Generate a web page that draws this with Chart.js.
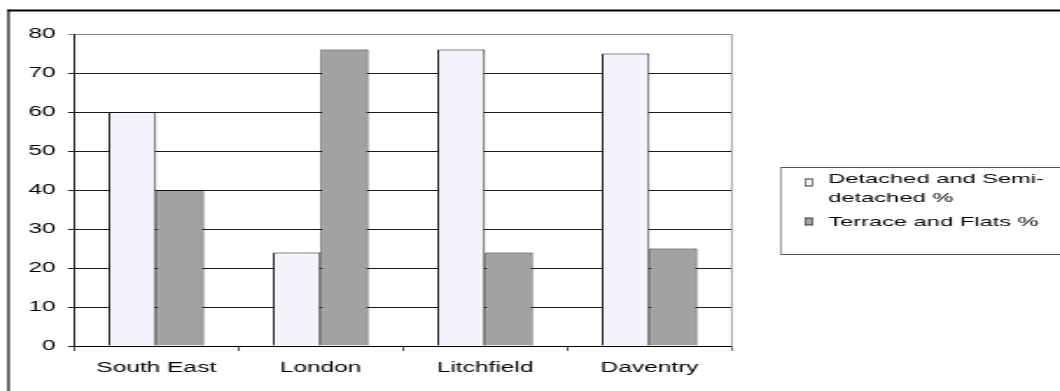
<!DOCTYPE html>
<html>
<head>
<meta charset="utf-8">
<script src="https://cdn.jsdelivr.net/npm/chart.js@4.4.1/dist/chart.umd.min.js"></script>
<style>
  html, body { margin: 0; padding: 0; background: #fff; overflow: hidden; }
  /* the chart is drawn narrow and widened horizontally, giving the wide lettering */
  #wrap { width: 606px; height: 391px; transform: scaleX(1.7492); transform-origin: 0 0; }
  canvas { display: block; }
</style>
</head>
<body>
<div id="wrap"><canvas id="c" width="606" height="391"></canvas></div>
<script>
// Housing type share by area
const regions = ["South East", "London", "Litchfield", "Daventry"];
const detachedPct = [60, 24, 76, 75];
const terracePct = [40, 76, 24, 25];
const seriesNames = ["Detached and Semi-detached %", "Terrace and Flats %"];
const legendLines = [["Detached and Semi-", "detached %"], ["Terrace and Flats %"]];
const yMin = 0, yMax = 80, yStep = 10;

const FONT = '"Liberation Sans", Arial, Helvetica, sans-serif';
const FSIZE = 14;
const LEGEND_FSIZE = 13.5;
Chart.defaults.font.family = FONT;
Chart.defaults.font.size = FSIZE;
Chart.defaults.color = '#000';

const lightFill = '#f3f3fb';
const greyFill = '#a2a2a2';
const fills = [lightFill, greyFill];

const frame = {
  id: 'frame',
  afterDraw(chart) {
    const { ctx, chartArea: a } = chart;
    ctx.save();
    // outer border (top and left edges)
    ctx.fillStyle = '#000';
    ctx.fillRect(4.3, 9.5, chart.width, 2);
    ctx.fillRect(4.3, 9.5, 1.15, chart.height);
    // right edge of the plot area
    ctx.fillStyle = '#8c8c8c';
    ctx.fillRect(a.right - 0.4, a.top, 0.8, a.bottom - a.top + 5);

    // legend box
    const lx = 446.3, ly = 167, lw = 200, lh = 87;
    ctx.fillStyle = '#555';
    ctx.fillRect(lx, ly, lw, 1);
    ctx.fillRect(lx, ly + lh, lw, 1);
    ctx.fillRect(lx, ly, 0.6, lh + 1);

    const rowsY = [[179, 198.5], [222.5]];
    const swatchY = [178.5, 217.5];
    ctx.font = LEGEND_FSIZE + 'px ' + FONT;
    ctx.textBaseline = 'middle';
    ctx.textAlign = 'left';
    chart.data.datasets.forEach((ds, i) => {
      const sx = 460, sw = 4.8, sh = 8, sy = swatchY[i];
      ctx.fillStyle = '#333';
      ctx.fillRect(sx, sy, sw, sh);
      ctx.fillStyle = fills[i];
      ctx.fillRect(sx + 0.6, sy + 1, sw - 1.2, sh - 2);
      ctx.fillStyle = '#000';
      legendLines[i].forEach((t, k) => ctx.fillText(t, 473.6, rowsY[i][k]));
    });
    ctx.restore();
  }
};

new Chart(document.getElementById('c'), {
  type: 'bar',
  data: {
    labels: regions,
    datasets: [
      { label: seriesNames[0], data: detachedPct, backgroundColor: lightFill,
        borderColor: '#111', borderWidth: 1, borderSkipped: 'bottom' },
      { label: seriesNames[1], data: terracePct, backgroundColor: greyFill,
        borderColor: '#111', borderWidth: 1, borderSkipped: 'bottom' }
    ]
  },
  options: {
    responsive: false,
    animation: false,
    devicePixelRatio: 1,
    categoryPercentage: 0.58,
    barPercentage: 1.0,
    layout: { padding: { top: 34, right: 187.7, bottom: 0, left: 0 } },
    plugins: { legend: { display: false }, title: { display: false }, tooltip: { enabled: false } },
    scales: {
      x: {
        afterFit(s) { s.height = 45; },
        grid: { display: true, drawOnChartArea: false, drawTicks: true, tickLength: 5,
                color: '#222', lineWidth: 0.8, offset: true },
        border: { display: true, color: '#000', width: 1 },
        ticks: { padding: 9, font: { size: FSIZE }, color: '#000', maxRotation: 0 }
      },
      y: {
        min: yMin, max: yMax,
        afterFit(s) { s.width = 42.3; },
        grid: { display: true, drawTicks: true, tickLength: 3.4,
                color: (c) => (c.tick && c.tick.value === yMax ? '#8c8c8c' : '#1a1a1a'),
                lineWidth: 1 },
        border: { display: true, color: '#222', width: 1 },
        ticks: { stepSize: yStep, padding: 7, font: { size: FSIZE }, color: '#000' }
      }
    }
  },
  plugins: [frame]
});
</script>
</body>
</html>
